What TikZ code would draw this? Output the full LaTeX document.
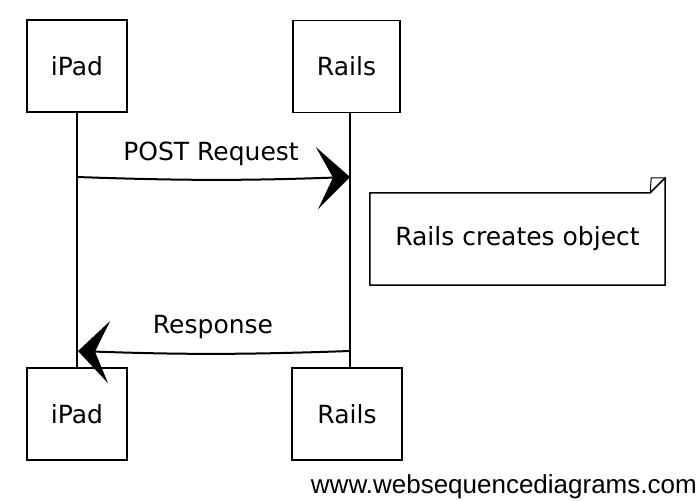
\documentclass[tikz,border=0pt]{standalone}
\usepackage{fontspec}
\setmainfont{DejaVu Sans}
\newfontfamily\footfont{Liberation Sans}
\usetikzlibrary{arrows.meta}
\begin{document}
\begin{tikzpicture}[x=1pt,y=-1pt,
  hand/.style={font=\fontsize{25}{29}\selectfont},
  actor/.style={draw, line width=1.5pt, minimum width=100pt, minimum height=92pt, inner sep=0pt, hand},
  lifeline/.style={line width=1.1pt},
  msg/.style={line width=2pt},
  lbl/.style={hand, inner sep=0pt},
  notebox/.style={minimum width=295pt, minimum height=92pt, inner sep=0pt, hand},
  notedraw/.style={line width=1.5pt, line join=round}
]
\useasboundingbox (0,0) rectangle (700,500);
% participants
\node[actor] (ipadtop) at (77,66) {iPad};
\node[actor, minimum width=107pt] (railstop) at (346.5,66.5) {Rails};
\node[actor] (ipadbot) at (77,414) {iPad};
\node[actor, minimum width=110pt] (railsbot) at (347,414) {Rails};
% lifelines
\coordinate (rtop) at (350,112.5);
\coordinate (rbot) at (350,368);
\draw[lifeline] (ipadtop.south) -- (ipadbot.north);
\draw[lifeline] (rtop) -- (rbot);
% messages
\coordinate (post1) at (77,177);
\coordinate (post2) at (350,177);
\draw[msg, -{Stealth[length=33pt, width=62pt, inset=16pt]}] (post1) to[bend right=2] (post2);
\node[lbl] (postlbl) at (211,154) {POST Request};
\coordinate (resp1) at (350,351);
\coordinate (resp2) at (78,351);
\draw[msg, -{Stealth[length=31pt, width=62pt, inset=14pt]}] (resp1) to[bend left=2] (resp2);
\node[lbl] (resplbl) at (213,327) {Response};
% note
\node[notebox] (note) at (517.5,239) {Rails creates object};
\draw[notedraw] (note.north west) -- ([xshift=-15pt]note.north east) -- ([yshift=15pt]note.north east) -- (note.south east) -- (note.south west) -- cycle;
\draw[notedraw, line width=1pt] ([xshift=-15pt]note.north east) -- ([xshift=-14pt,yshift=15pt]note.north east) -- ([yshift=15pt]note.north east);
% footer
\node[font=\footfont\fontsize{26}{29}\selectfont, anchor=base east, inner sep=0pt] (footer) at (697,493) {www.websequencediagrams.com};
\end{tikzpicture}
\end{document}
